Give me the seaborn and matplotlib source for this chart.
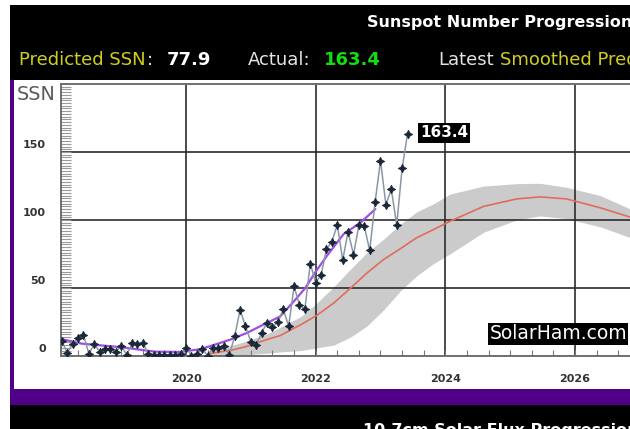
import pandas as pd
import matplotlib
matplotlib.use("Agg")
import matplotlib.pyplot as plt
from matplotlib.patches import Rectangle
from matplotlib.ticker import MultipleLocator
import seaborn as sns

# monthly sunspot numbers, starting Feb 2018
first_month = "2018-02"
ssn_monthly = [
    10.7, 2.5, 8.9, 13.1, 15.6, 1.6, 8.7, 3.3, 4.9, 4.9, 3.1,
    7.7, 0.8, 9.4, 9.1, 9.9, 1.2, 0.9, 0.5, 1.1, 0.4, 0.5, 1.5,
    6.2, 0.2, 1.5, 5.2, 0.2, 5.8, 6.1, 7.5, 0.6, 14.4, 34.0, 21.8,
    10.4, 8.2, 17.2, 24.5, 21.2, 25.0, 34.3, 22.0, 51.3, 37.4, 34.8, 68.0,
    54.0, 59.7, 78.5, 84.1, 96.5, 70.5, 91.4, 74.6, 96.0, 95.5, 77.6, 113.1,
    143.6, 111.3, 122.6, 96.4, 137.9, 163.4,
]

# smoothed curve (purple)
smooth_years = [2018.07, 2018.39, 2019.01, 2019.52, 2019.91, 2020.22, 2020.42,
                2020.68, 2020.94, 2021.19, 2021.45, 2021.66, 2021.84, 2022.0,
                2022.17, 2022.43, 2022.69, 2022.92]
smooth_ssn = [12.5, 9.1, 6.4, 3.2, 3.0, 5.0, 8.0, 12.0, 17.0, 23.0, 29.0, 40.0,
              50.0, 62.0, 73.5, 89.6, 98.0, 108.0]

# predicted curve (red) and its range (grey band)
pred_years = [2020.33, 2020.72, 2020.93, 2021.24, 2021.45, 2021.77, 2022.02,
              2022.28, 2022.54, 2022.79, 2023.05, 2023.31, 2023.56, 2023.82,
              2024.07, 2024.59, 2025.1, 2025.46, 2025.87, 2026.39, 2026.86,
              2027.3]
pred_ssn = [1.5, 4.5, 7, 12, 15, 23, 30, 39, 50, 61, 71, 79, 87, 93, 99, 110,
            115.5, 117, 115.5, 109, 102, 94]
pred_high = [4, 8, 11, 16, 21, 29, 39, 51, 64, 76, 86, 97, 106, 112, 119, 125,
             126.7, 127, 124, 118, 108, 98]
pred_low = [0, 1, 1, 2, 3, 4, 6, 8, 14, 22, 34, 48, 59, 68, 75, 91, 100, 103,
            101, 95, 87, 80]

year_ticks = [2020, 2022, 2024, 2026]
ssn_ticks = [0, 50, 100, 150]

months = pd.date_range(first_month, periods=len(ssn_monthly), freq="MS")
obs = pd.DataFrame({"year": months.year + (months.month - 1) / 12,
                    "ssn": ssn_monthly})

W, H = 630, 429
sns.set_style("white")
plt.rcParams["font.family"] = ["DejaVu Sans"]
fig = plt.figure(figsize=(W / 100, H / 100), dpi=100, facecolor="white")


def fx(px):
    return px / W


def fy(py):
    return 1 - py / H


def panel(x0, y0, x1, y1, color):
    fig.patches.append(Rectangle((fx(x0), fy(y1)), fx(x1) - fx(x0), fy(y0) - fy(y1),
                                 transform=fig.transFigure, facecolor=color,
                                 edgecolor="none", zorder=-10))


# page frame: black header/footer, purple border, white plot panel
panel(10, 5, 640, 440, "black")
panel(10, 80, 640, 405, "#4f0087")
panel(14, 80, 640, 389, "white")

# header texts
yellow = "#d0d01c"
light = "#e4e4e4"
fig.text(fx(367), fy(22), "Sunspot Number Progression", color="white",
         fontsize=11.5, fontweight="bold", va="center")
fig.text(fx(19), fy(60), "Predicted SSN", color=yellow, fontsize=13, va="center")
fig.text(fx(147), fy(60), ":", color=light, fontsize=13, va="center")
fig.text(fx(167), fy(60), "77.9", color="white", fontsize=13, fontweight="bold", va="center")
fig.text(fx(248), fy(60), "Actual:", color=light, fontsize=13, va="center")
fig.text(fx(324), fy(60), "163.4", color="#10e010", fontsize=13, fontweight="bold", va="center")
fig.text(fx(438), fy(60), "Latest", color=light, fontsize=13, va="center")
fig.text(fx(500), fy(60), "Smoothed Predicted", color=yellow, fontsize=13, va="center")
fig.text(fx(363), fy(423), "10.7cm Solar Flux Progression", color="white",
         fontsize=11.5, fontweight="bold", va="top")
fig.text(fx(17), fy(95), "SSN", color="#5a5a5a", fontsize=13.8, va="center")

# plot area (runs past the right edge of the picture)
ax = fig.add_axes([fx(61), fy(356), (700 - 61) / W, (356 - 84) / H])
ax.set_facecolor("white")

ax.fill_between(pred_years, pred_low, pred_high, color="#cbcbcb", lw=0, zorder=1)
sns.lineplot(x=pred_years, y=pred_ssn, ax=ax, color="#e26b5c", lw=1.2, zorder=3)
sns.lineplot(x=smooth_years, y=smooth_ssn, ax=ax, color="#9b4fe6", lw=1.6, zorder=4)
sns.lineplot(data=obs, x="year", y="ssn", ax=ax, color="#8b97a4", lw=1.1, zorder=5)
sns.scatterplot(data=obs, x="year", y="ssn", ax=ax, marker=(4, 1, 0), s=34,
                color="#1b2838", edgecolor="#1b2838", linewidth=0.7, zorder=6)

ax.set_xlim(2018.07, 2027.93)
ax.set_ylim(0, 200)
ax.set_xlabel("")
ax.set_ylabel("")

ax.set_xticks(year_ticks)
ax.set_yticks(ssn_ticks)
ax.xaxis.set_minor_locator(MultipleLocator(1 / 3))
ax.yaxis.set_minor_locator(MultipleLocator(2))
ax.set_axisbelow("line")
ax.grid(True, which="major", color="#2c2c2c", lw=1.2)

ax.tick_params(axis="x", which="both", direction="in", length=4, width=0.8,
               color="#777777", bottom=True, top=False, pad=13,
               labelsize=8, labelcolor="#333333")
ax.tick_params(axis="y", which="both", direction="in", length=7, width=0.8,
               color="#9a9a9a", left=True, right=False, labelleft=False)
for lab in ax.get_xticklabels():
    lab.set_fontweight("bold")

# y labels sit a little above their grid lines
for v in ssn_ticks:
    ax.annotate(str(v), xy=(0, v), xycoords=("axes fraction", "data"),
                xytext=(-11, 5.4), textcoords="offset points", ha="right",
                va="center", fontsize=8, fontweight="bold", color="#333333")

for side in ["left", "bottom", "top"]:
    ax.spines[side].set_color("#707070")
    ax.spines[side].set_linewidth(1.4)

ax.text(2023.61, 164, "163.4", color="white", fontsize=11, fontweight="bold",
        va="center", ha="left", zorder=7,
        bbox=dict(facecolor="black", edgecolor="none", pad=1.5))
ax.text(2024.68, 16.2, "SolarHam.com", color="white", fontsize=13.5,
        va="center", ha="left", zorder=7,
        bbox=dict(facecolor="black", edgecolor="none", pad=1.0))

fig.savefig("out.png", dpi=100, facecolor="white")
